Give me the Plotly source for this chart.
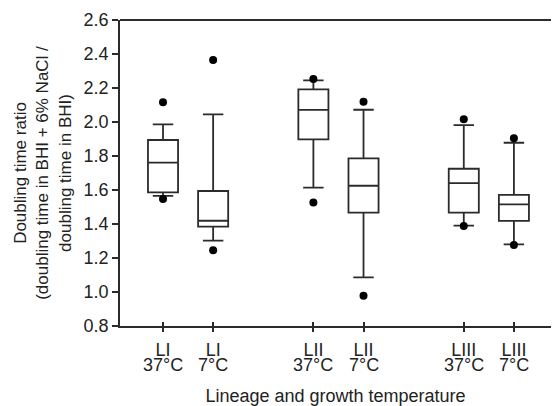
import plotly.graph_objects as go

positions = [1, 2, 4, 5, 7, 8]
lineage_labels = ["LI", "LI", "LII", "LII", "LIII", "LIII"]
temperature_labels = ["37°C", "7°C", "37°C", "7°C", "37°C", "7°C"]
lower_whisker = [1.565, 1.302, 1.614, 1.086, 1.39, 1.28]
q1 = [1.586, 1.384, 1.898, 1.467, 1.467, 1.418]
median = [1.761, 1.419, 2.071, 1.625, 1.641, 1.516]
q3 = [1.894, 1.594, 2.192, 1.786, 1.725, 1.571]
upper_whisker = [1.986, 2.045, 2.245, 2.072, 1.982, 1.878]
outlier_low = [1.547, 1.245, 1.527, 0.978, 1.388, 1.276]
outlier_high = [2.116, 2.365, 2.253, 2.119, 2.016, 1.904]
y_ticks = [0.8, 1.0, 1.2, 1.4, 1.6, 1.8, 2.0, 2.2, 2.4, 2.6]

LINE = "#2b2b2b"
TEXT = "#222222"
FONT = "Liberation Sans, Arial, sans-serif"

fig = go.Figure()
fig.add_trace(go.Box(
    x=positions, q1=q1, median=median, q3=q3,
    lowerfence=lower_whisker, upperfence=upper_whisker,
    width=0.6, whiskerwidth=0.68,
    fillcolor="white", line=dict(color=LINE, width=1.8),
    boxpoints=False, showlegend=False, hoverinfo="skip",
))
fig.add_trace(go.Scatter(
    x=positions + positions, y=outlier_low + outlier_high,
    mode="markers", marker=dict(color="black", size=8),
    showlegend=False, hoverinfo="skip",
))
# invisible trace so xaxis2 (inner tick halves) is drawn
fig.add_trace(go.Scatter(x=[positions[0]], y=[y_ticks[0]], xaxis="x2", mode="markers",
                         marker=dict(opacity=0), showlegend=False, hoverinfo="skip"))

annotations = [
    dict(x=p, y=0, xref="x", yref="paper", text=t, showarrow=False,
         yanchor="top", yshift=-27, font=dict(size=18, color=TEXT))
    for p, t in zip(positions, temperature_labels)
]

fig.update_layout(
    width=553, height=406,
    margin=dict(l=120, r=2, t=20, b=80),
    plot_bgcolor="white", paper_bgcolor="white",
    font=dict(family=FONT, size=17, color=TEXT),
    xaxis=dict(
        range=[0.142, 8.74], tickvals=positions, ticktext=lineage_labels,
        showline=True, linecolor=LINE, linewidth=1.8,
        ticks="outside", ticklen=4, tickwidth=1.5, tickcolor=LINE,
        showgrid=False, zeroline=False, ticklabelstandoff=2,
        tickfont=dict(size=18, color=TEXT),
        title=dict(text="Lineage and growth temperature", standoff=33, font=dict(size=18, color=TEXT)),
    ),
    xaxis2=dict(
        overlaying="x", matches="x", anchor="y", side="bottom",
        tickvals=positions, showticklabels=False,
        showline=False, ticks="inside", ticklen=4, tickwidth=1.5, tickcolor=LINE,
        showgrid=False, zeroline=False,
    ),
    yaxis=dict(
        range=[0.8, 2.6], tickvals=y_ticks,
        ticktext=[f"{v:.1f}" for v in y_ticks],
        showline=True, linecolor=LINE, linewidth=1.8,
        ticks="outside", ticklen=6, tickwidth=1.5, tickcolor=LINE,
        showgrid=False, zeroline=False,
        title=dict(text="Doubling time ratio<br>(doubling time in BHI + 6% NaCl /<br>doubling time in BHI)",
                   standoff=8, font=dict(size=17, color=TEXT)),
        tickfont=dict(size=18, color=TEXT),
    ),
    shapes=[dict(type="line", xref="paper", yref="paper", x0=0, x1=1, y0=1, y1=1,
                 line=dict(color=LINE, width=1.8))],
    annotations=annotations,
)

fig.write_html("out.html", post_script="document.body.style.margin='0';",
               config={"displayModeBar": False})
